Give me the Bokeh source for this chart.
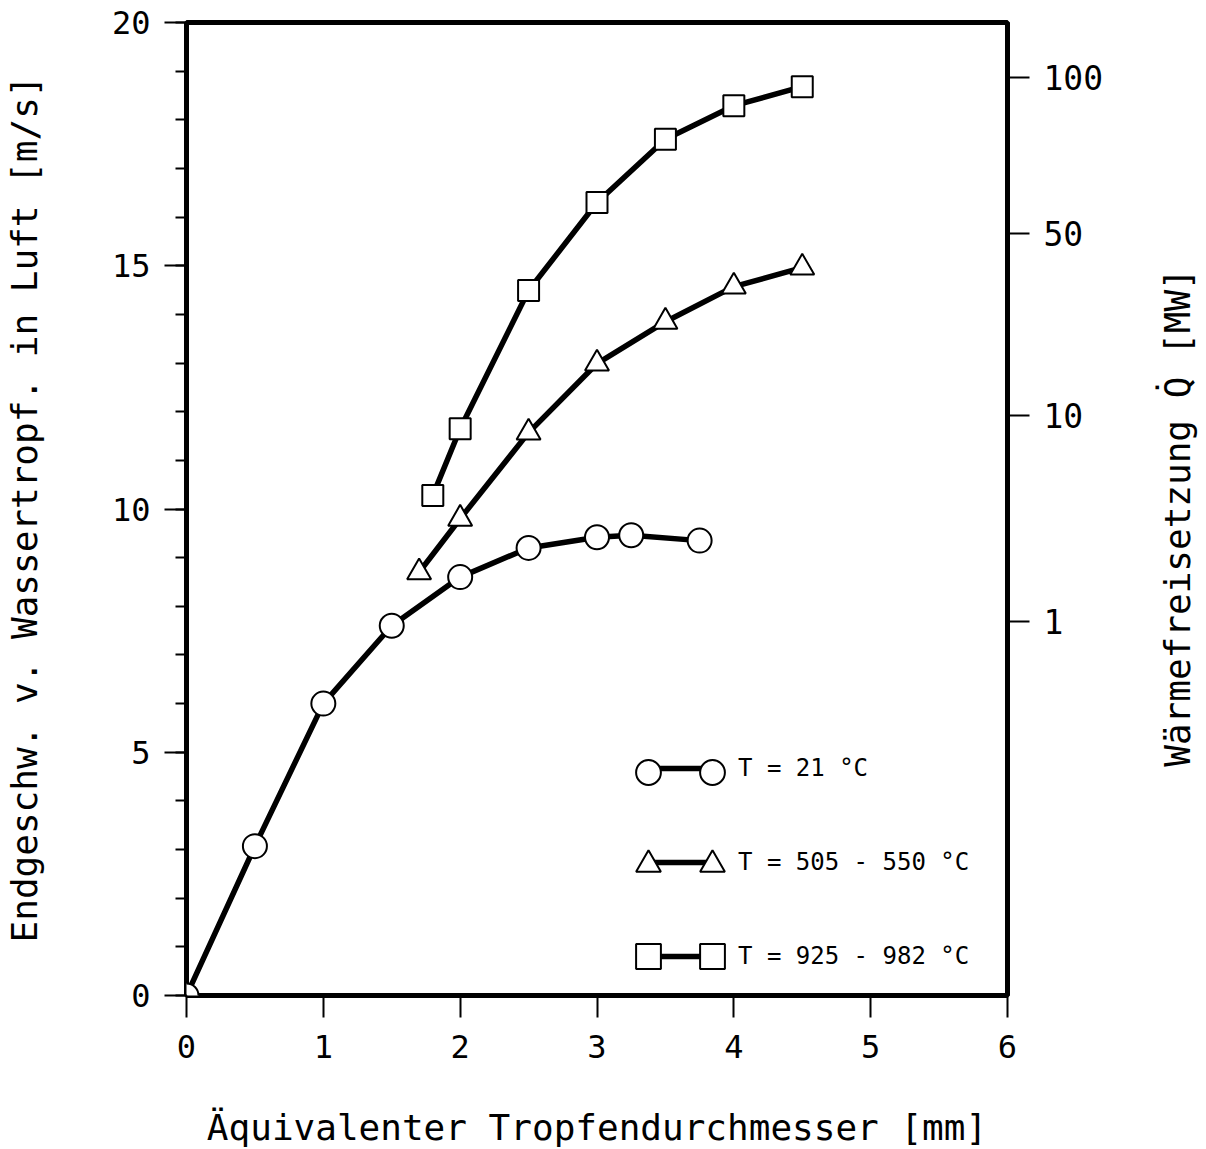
import math
from bokeh.plotting import figure
from bokeh.layouts import row
from bokeh.models import Range1d, LinearAxis, FixedTicker, Legend, LegendItem, Label
from bokeh.embed import file_html
from bokeh.resources import INLINE

# --- data ---
x_circ = [0.0, 0.5, 1.0, 1.5, 2.0, 2.5, 3.0, 3.25, 3.75]
y_circ = [0.0, 3.07, 6.0, 7.6, 8.6, 9.2, 9.42, 9.46, 9.35]

x_tri = [1.7, 2.0, 2.5, 3.0, 3.5, 4.0, 4.5]
y_tri = [8.7, 9.8, 11.57, 12.99, 13.85, 14.57, 14.96]

x_sq = [1.8, 2.0, 2.5, 3.0, 3.5, 4.0, 4.5]
y_sq = [10.28, 11.65, 14.49, 16.3, 17.6, 18.29, 18.68]

series_labels = ["T = 21 °C", "T = 505 - 550 °C", "T = 925 - 982 °C"]

x_ticks = [0, 1, 2, 3, 4, 5, 6]
y_ticks = [0, 5, 10, 15, 20]
y_minor = list(range(0, 21))

# right axis (heat release, MW): tick positions expressed on the left scale
right_tick_pos = [7.69, 11.92, 15.66, 18.87]
right_tick_labels = ["1", "10", "50", "100"]
right_axis_title = "Wärmefreisetzung Q̇ [MW]"

FONT_MONO = "DejaVu Sans Mono"
FIG_H = 22 + 973 + 152

p = figure(frame_width=821, frame_height=973,
           x_range=Range1d(0, 6), y_range=Range1d(0, 20),
           output_backend="svg", toolbar_location=None,
           min_border_left=179, min_border_right=136,
           min_border_top=22, min_border_bottom=152)
p.background_fill_color = "white"
p.border_fill_color = "white"
p.outline_line_color = "black"
p.outline_line_width = 5
p.xgrid.visible = False
p.ygrid.visible = False

# bottom axis
xa = p.xaxis[0]
xa.ticker = FixedTicker(ticks=x_ticks)
xa.axis_line_color = None
xa.major_tick_out = 22
xa.major_tick_in = 0
xa.major_tick_line_width = 2
xa.minor_tick_line_color = None
xa.major_label_text_font = FONT_MONO
xa.major_label_text_font_size = "32px"
xa.major_label_text_color = "black"
xa.major_label_standoff = 17
xa.axis_label = "Äquivalenter Tropfendurchmesser [mm]"
xa.axis_label_text_font = FONT_MONO
xa.axis_label_text_font_size = "36px"
xa.axis_label_text_font_style = "normal"
xa.axis_label_text_color = "black"
xa.axis_label_standoff = 46

# left axis
ya = p.yaxis[0]
ya.ticker = FixedTicker(ticks=y_ticks, minor_ticks=y_minor)
ya.axis_line_color = None
ya.major_tick_out = 22
ya.major_tick_in = 0
ya.major_tick_line_width = 2
ya.minor_tick_out = 11
ya.minor_tick_in = 0
ya.minor_tick_line_width = 2
ya.major_label_text_font = FONT_MONO
ya.major_label_text_font_size = "32px"
ya.major_label_text_color = "black"
ya.major_label_standoff = 14
ya.axis_label = "Endgeschw. v. Wassertropf. in Luft [m/s]"
ya.axis_label_text_font = FONT_MONO
ya.axis_label_text_font_size = "36px"
ya.axis_label_text_font_style = "normal"
ya.axis_label_text_color = "black"
ya.axis_label_standoff = 64

# right axis
p.extra_y_ranges = {"q": Range1d(0, 20)}
ra = LinearAxis(y_range_name="q",
                ticker=FixedTicker(ticks=right_tick_pos, minor_ticks=[]),
                major_label_overrides={v: s for v, s in zip(right_tick_pos, right_tick_labels)})
ra.axis_line_color = None
ra.major_tick_out = 22
ra.major_tick_in = 0
ra.major_tick_line_width = 2
ra.minor_tick_line_color = None
ra.major_label_text_font = FONT_MONO
ra.major_label_text_font_size = "33px"
ra.major_label_text_color = "black"
ra.major_label_standoff = 14
p.add_layout(ra, "right")

LW = 5.5
l1 = p.line(x_circ, y_circ, line_color="black", line_width=LW)
l2 = p.line(x_tri, y_tri, line_color="black", line_width=LW)
l3 = p.line(x_sq, y_sq, line_color="black", line_width=LW)
m1 = p.scatter(x_circ, y_circ, marker="circle", size=24, fill_color="white",
               line_color="black", line_width=2)
m2 = p.scatter(x_tri, y_tri, marker="triangle", size=24, fill_color="white",
               line_color="black", line_width=2)
m3 = p.scatter(x_sq, y_sq, marker="square", size=21, fill_color="white",
               line_color="black", line_width=2)

# legend: line with labels, then marker-only legends at each end of the line
common = dict(background_fill_alpha=0, border_line_color=None, padding=0, margin=0,
              label_text_font=FONT_MONO, label_text_font_size="24px",
              label_text_color="black")
leg_lines = Legend(items=[LegendItem(label=series_labels[0], renderers=[l1]),
                          LegendItem(label=series_labels[1], renderers=[l2]),
                          LegendItem(label=series_labels[2], renderers=[l3])],
                   location=(461, 25), glyph_width=64, glyph_height=26,
                   label_height=26, spacing=66, label_standoff=27, **common)
p.add_layout(leg_lines)
for xloc in (431, 495):
    lg = Legend(items=[LegendItem(label=" ", renderers=[m1]),
                       LegendItem(label=" ", renderers=[m2]),
                       LegendItem(label=" ", renderers=[m3])],
                location=(xloc, 8), glyph_width=62, glyph_height=62,
                label_height=62, spacing=30, label_standoff=14, **common)
    p.add_layout(lg)

# narrow companion panel holding the right-hand axis title (reads bottom-to-top)
t = figure(frame_width=60, frame_height=FIG_H, x_axis_type=None, y_axis_type=None,
           output_backend="svg", toolbar_location=None,
           min_border_left=0, min_border_right=0, min_border_top=0, min_border_bottom=0)
t.outline_line_color = None
t.xgrid.visible = False
t.ygrid.visible = False
t.background_fill_color = "white"
t.border_fill_color = "white"
t.add_layout(Label(x=34, y=FIG_H - 495, x_units="screen", y_units="screen",
                   text=right_axis_title, angle=math.pi / 2,
                   text_align="center", text_baseline="middle",
                   text_font=FONT_MONO, text_font_size="36px", text_color="black"))

layout = row(p, t)
open("out.html", "w").write(file_html(layout, INLINE))
